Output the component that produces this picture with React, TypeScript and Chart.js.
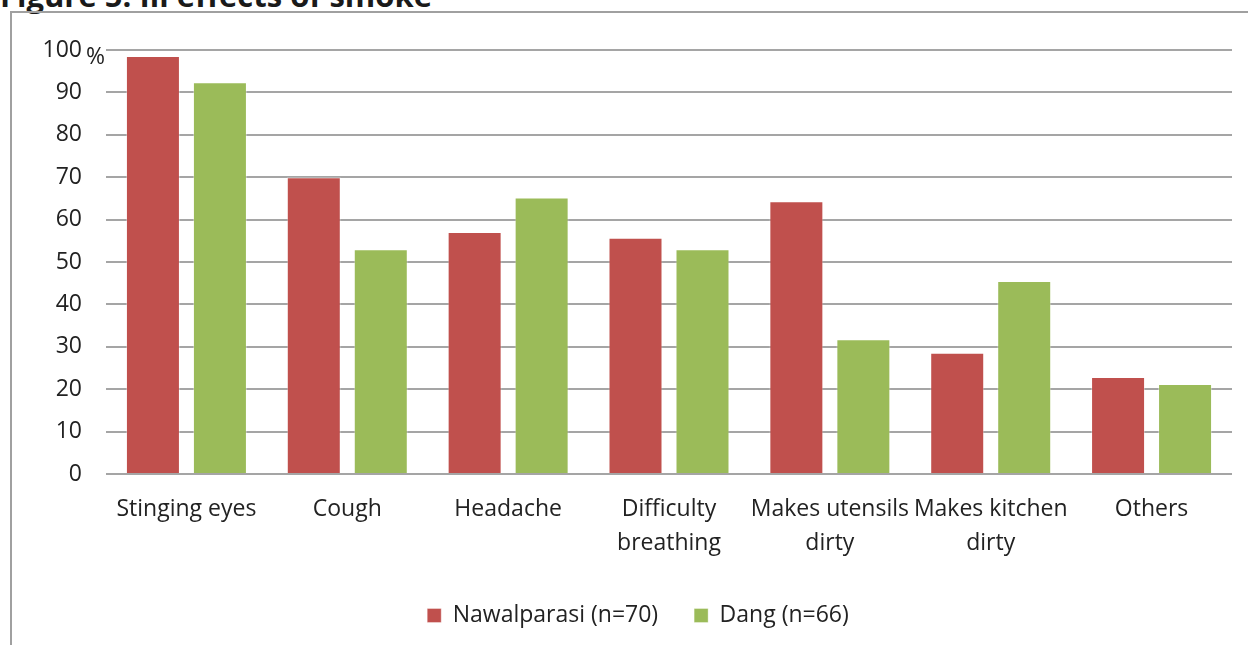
import React, { useEffect, useRef } from "react";
import { Chart, registerables } from "chart.js";

Chart.register(...registerables);

const titleText = "Figure 5: Ill effects of smoke";
const categories: (string | string[])[] = [
  "Stinging eyes",
  "Cough",
  "Headache",
  ["Difficulty", "breathing"],
  ["Makes utensils", "dirty"],
  ["Makes kitchen", "dirty"],
  "Others",
];
const nawalparasi = [98.6, 70.0, 57.1, 55.7, 64.3, 28.6, 22.9];
const dang = [92.4, 53.0, 65.2, 53.0, 31.8, 45.5, 21.2];
const seriesNames = ["Nawalparasi (n=70)", "Dang (n=66)"];
const yTicks = [0, 10, 20, 30, 40, 50, 60, 70, 80, 90, 100];
const unitLabel = "%";

const FONT = "'Open Sans', Lato, sans-serif";
const TEXT = "#222222";

const percentPlugin = {
  id: "percentLabel",
  afterDraw(chart: any) {
    const y = chart.scales.y;
    const ctx = chart.ctx;
    ctx.save();
    ctx.font = `23px ${FONT}`;
    ctx.fillStyle = TEXT;
    ctx.textAlign = "left";
    ctx.textBaseline = "middle";
    ctx.fillText(unitLabel, chart.chartArea.left - 20, y.getPixelForValue(100) + 7);
    ctx.restore();
  },
};

export default function App() {
  const ref = useRef<HTMLCanvasElement | null>(null);
  useEffect(() => {
    if (!ref.current) return;
    const chart = new Chart(ref.current, {
      type: "bar",
      data: {
        labels: categories,
        datasets: [
          {
            label: seriesNames[0],
            data: nawalparasi,
            backgroundColor: "#C0504D",
            borderColor: "rgba(255,255,255,0.35)",
            borderWidth: 1,
            categoryPercentage: 0.833,
            barPercentage: 0.806,
          },
          {
            label: seriesNames[1],
            data: dang,
            backgroundColor: "#9BBB59",
            borderColor: "rgba(255,255,255,0.35)",
            borderWidth: 1,
            categoryPercentage: 0.833,
            barPercentage: 0.806,
          },
        ],
      },
      options: {
        animation: false,
        responsive: false,
        maintainAspectRatio: false,
        layout: { padding: { top: 50, right: 16, bottom: 8, left: 44 } },
        plugins: {
          tooltip: { enabled: false },
          legend: {
            position: "bottom",
            labels: {
              boxWidth: 14,
              boxHeight: 14,
              padding: 36,
              color: TEXT,
              font: { family: FONT, size: 23 },
            },
          },
        },
        scales: {
          x: {
            grid: { display: false, drawTicks: false },
            border: { display: false },
            ticks: {
              color: TEXT,
              font: { family: FONT, size: 23, lineHeight: 1.48 },
              padding: 18,
              maxRotation: 0,
              autoSkip: false,
            },
            afterFit(scale: any) {
              scale.height = 94;
            },
          },
          y: {
            min: 0,
            max: 100,
            afterBuildTicks(scale: any) {
              scale.ticks = yTicks.map((v) => ({ value: v }));
            },
            grid: { color: "#a5a5a5", lineWidth: 2, drawTicks: false },
            border: { display: false },
            ticks: {
              color: TEXT,
              font: { family: FONT, size: 23 },
              padding: 24,
            },
            afterFit(scale: any) {
              scale.width = 62;
            },
          },
        },
      },
      plugins: [percentPlugin],
    });
    return () => chart.destroy();
  }, []);

  return (
    <div
      style={{
        position: "absolute",
        left: 0,
        top: 0,
        width: 1248,
        height: 645,
        overflow: "hidden",
        background: "#fff",
      }}
    >
      <div
        style={{
          position: "absolute",
          left: 0,
          top: -20,
          fontFamily: FONT,
          fontWeight: 700,
          fontSize: 31,
          lineHeight: "31px",
          color: "#1a1a1a",
          whiteSpace: "nowrap",
        }}
      >
        {titleText}
      </div>
      <div
        style={{
          position: "absolute",
          left: 10,
          top: 11,
          width: 1300,
          height: 700,
          borderLeft: "2px solid #a0a0a0",
          borderTop: "2px solid #a0a0a0",
        }}
      />
      <canvas
        ref={ref}
        width={1248}
        height={645}
        style={{ position: "absolute", left: 0, top: 0, width: 1248, height: 645 }}
      />
    </div>
  );
}
